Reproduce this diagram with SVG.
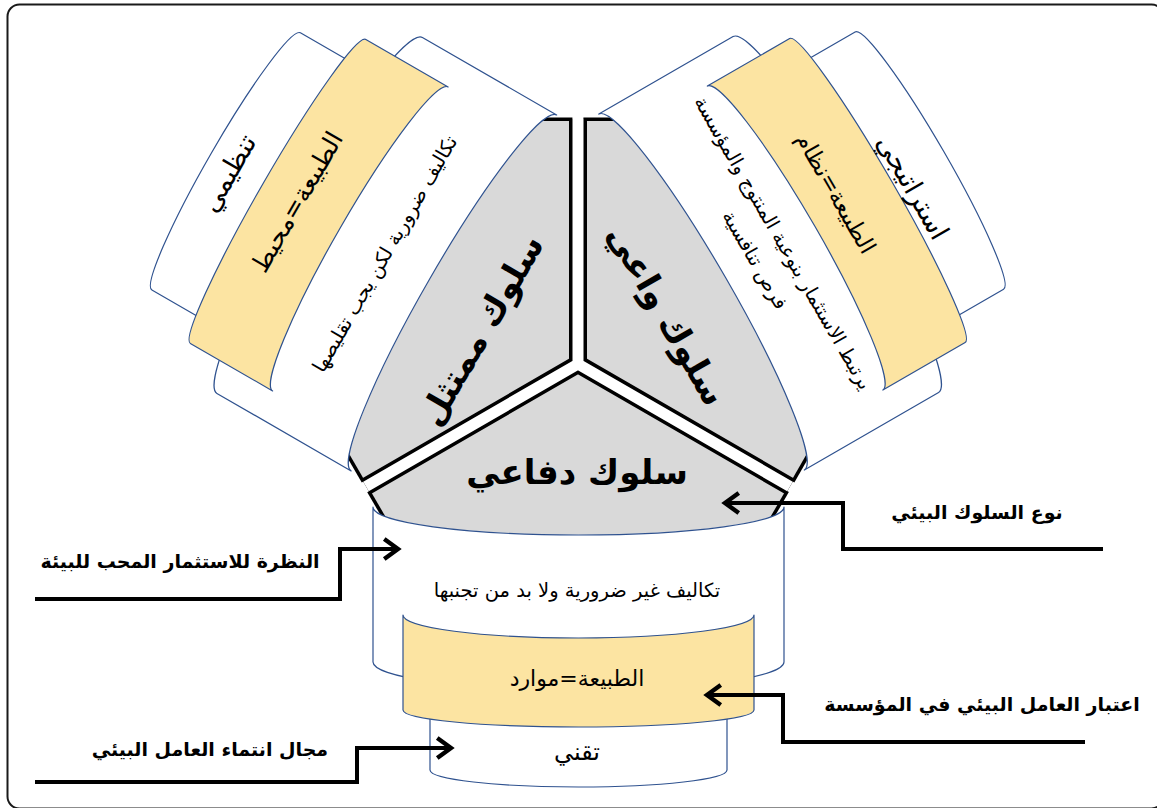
<svg xmlns="http://www.w3.org/2000/svg" width="1157" height="808" viewBox="0 0 1157 808">
<style>
  text { font-family: "DejaVu Sans", sans-serif; fill: #000; text-anchor: middle; dominant-baseline: central; }
  .card { stroke: #2F528F; stroke-width: 1.2; stroke-linejoin: round; }
  .white { fill: #FFFFFF; }
  .gold { fill: #FCE4A2; }
  .gray { fill: #D9D9D9; }
  .cap { stroke: #000; stroke-width: 3.5; fill: none; }
  .conn { stroke: #000; stroke-width: 4; fill: none; }
  .lbl { font-weight: bold; font-size: 19px; }
  .beh { font-weight: bold; font-size: 34px; }
  .cost { font-size: 19.5px; }
  .nat { font-size: 22px; }
  .dom { font-size: 24px; }
</style>
<defs>
  <path id="piece" d="M578,364 L366,486.5 L383.5,515.8 A205.5,28 0 0 0 772.5,515.8 L790,486.5 Z"/>
  <g id="caps">
    <line x1="368.75" y1="491.26" x2="386" y2="521.1"/>
    <line x1="363.25" y1="481.74" x2="346" y2="451.9"/>
  </g>
  <g id="stack">
    <path class="card white" d="M373,507 A205.5,28 0 0 0 784,507 L784,662 A205.5,28 0 0 1 373,662 Z"/>
    <path class="card white" d="M430,700 A148.5,17 0 0 0 727,700 L727,770 A148.5,17 0 0 1 430,770 Z"/>
    <path class="card gold" d="M403,615 A175.5,23 0 0 0 754,615 L754,710 A175.5,17 0 0 1 403,710 Z"/>
  </g>
  <marker id="arr" markerUnits="userSpaceOnUse" markerWidth="30" markerHeight="30" refX="0" refY="0" viewBox="-16 -12 20 24" orient="auto" overflow="visible">
    <path d="M-11,-8 L0,0 L-11,8" fill="none" stroke="#000" stroke-width="3.5" stroke-linejoin="miter"/>
  </marker>
</defs>

<rect x="7.5" y="4.5" width="1156" height="804" rx="12" fill="#FFFFFF" stroke="#1A1A1A" stroke-width="2"/>

<g id="triangle">
  <use href="#piece" class="gray"/>
  <use href="#piece" class="gray" transform="rotate(120 578 364)"/>
  <use href="#piece" class="gray" transform="rotate(-120 578 364)"/>
  <g class="cap">
    <use href="#caps"/>
    <use href="#caps" transform="rotate(120 578 364)"/>
    <use href="#caps" transform="rotate(-120 578 364)"/>
  </g>
  <path d="M366,486.5 L578,364 L790,486.5 M578,364 L578,119" fill="none" stroke="#000" stroke-width="18" stroke-linejoin="miter"/>
  <path d="M366,486.5 L578,364 L790,486.5 M578,364 L578,119" fill="none" stroke="#FFFFFF" stroke-width="11" stroke-linejoin="miter"/>
</g>

<g id="stack-bottom">
  <use href="#stack"/>
  <text class="cost" x="577" y="590">تكاليف غير ضرورية ولا بد من تجنبها</text>
  <text class="nat" x="577" y="678">الطبيعة=موارد</text>
  <text class="dom" x="577" y="752">تقني</text>
</g>

<g id="stack-left">
  <use href="#stack" transform="rotate(120 578 364)"/>
  <text class="cost" x="385" y="254" transform="rotate(-60 385 254)">تكاليف ضرورية لكن يجب تقليصها</text>
  <text class="nat" x="297" y="202" transform="rotate(-60 297 202)" style="font-size:25px">الطبيعة=محيط</text>
  <text class="dom" x="228" y="173" transform="rotate(-60 228 173)" style="font-size:27px">تنظيمي</text>
</g>

<g id="stack-right">
  <use href="#stack" transform="rotate(-120 578 364)"/>
  <text class="cost" x="783" y="243" transform="rotate(60 783 243)">يرتبط الاستثمار بنوعية المنتوج والمؤسسة</text>
  <text class="cost" x="755" y="260" transform="rotate(60 755 260)">فرص تنافسية</text>
  <text class="nat" x="836" y="193" transform="rotate(60 836 193)" style="font-size:23px">الطبيعة=نظام</text>
  <text class="dom" x="913" y="187" transform="rotate(60 913 187)" style="font-size:27px">استراتيجي</text>
</g>

<g id="behaviours">
  <text class="beh" x="577" y="472">سلوك دفاعي</text>
  <text class="beh" x="481" y="330" transform="rotate(-60 481 330)">سلوك ممتثل</text>
  <text class="beh" x="667" y="315" transform="rotate(60 667 315)">سلوك واعي</text>
</g>

<g id="labels">
  <text class="lbl" x="180" y="561">النظرة للاستثمار المحب للبيئة</text>
  <text class="lbl" x="210" y="749">مجال انتماء العامل البيئي</text>
  <text class="lbl" x="977" y="512">نوع السلوك البيئي</text>
  <text class="lbl" x="982" y="704">اعتبار العامل البيئي في المؤسسة</text>
</g>

<g id="connectors">
  <polyline class="conn" points="35,599 340,599 340,549 398,549" marker-end="url(#arr)"/>
  <polyline class="conn" points="35,782 357,782 357,748 451,748" marker-end="url(#arr)"/>
  <polyline class="conn" points="1103,549 843,549 843,503 725,503" marker-end="url(#arr)"/>
  <polyline class="conn" points="1085,742 783,742 783,695 707,695" marker-end="url(#arr)"/>
</g>
</svg>
